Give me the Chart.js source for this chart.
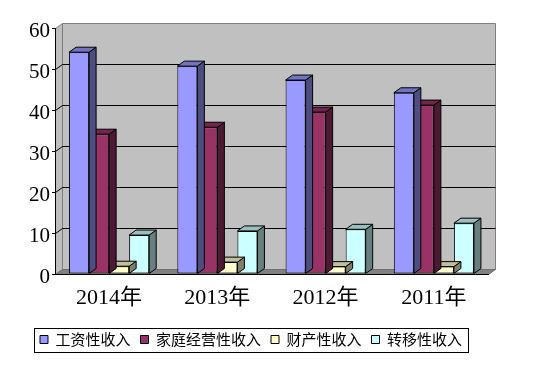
<!DOCTYPE html>
<html>
<head>
<meta charset="utf-8">
<script src="https://cdn.jsdelivr.net/npm/chart.js@4.4.1/dist/chart.umd.min.js"></script>
<style>
	body { margin: 0; background: #fff; }
	canvas { display: block; }
</style>
</head>
<body>
<canvas id="incomeChart" width="538" height="379"></canvas>
<script>
const years = ['2014年', '2013年', '2012年', '2011年'];
const seriesNames = ['工资性收入', '家庭经营性收入', '财产性收入', '转移性收入'];
const wages = [54.1, 50.7, 47.3, 44.2];
const family = [34.1, 35.8, 39.5, 41.2];
const property = [1.9, 2.9, 1.8, 1.8];
const transfer = [9.5, 10.5, 10.9, 12.4];
const yTicks = [0, 10, 20, 30, 40, 50, 60];

const frontColors = ['#9999FF', '#993366', '#FFFFCC', '#CCFFFF'];
const topColors = ['#7373BF', '#73264D', '#BFBF99', '#99BFBF'];
const sideColors = ['#4D4D80', '#4D1A33', '#808066', '#668080'];
const DX = 7, DY = 5;

function poly(ctx, pts, fill, stroke) {
	ctx.beginPath();
	ctx.moveTo(pts[0][0], pts[0][1]);
	for (let i = 1; i < pts.length; i++) ctx.lineTo(pts[i][0], pts[i][1]);
	ctx.closePath();
	if (fill) { ctx.fillStyle = fill; ctx.fill(); }
	if (stroke) { ctx.strokeStyle = stroke; ctx.lineWidth = 1; ctx.stroke(); }
}

// back wall, side wall, floor and gridlines
const wallsPlugin = {
	id: 'walls',
	beforeDraw(chart) {
		const {ctx, chartArea: a} = chart;
		const yScale = chart.scales.y;
		const L = a.left + 0.5, R = a.right + 0.5, T = a.top + 0.5, B = a.bottom + 0.5;
		ctx.save();
		poly(ctx, [[L + DX, T - DY], [R + DX, T - DY], [R + DX, B - DY], [L + DX, B - DY]], '#C0C0C0', '#808080');
		poly(ctx, [[L, T], [L + DX, T - DY], [L + DX, B - DY], [L, B]], '#BDBDBD', '#808080');
		poly(ctx, [[L, B], [L + DX, B - DY], [R + DX, B - DY], [R, B]], '#808080', '#707070');
		ctx.strokeStyle = '#000';
		ctx.lineWidth = 1;
		yTicks.forEach(v => {
			if (v === 0 || v === 60) return;
			const y = Math.round(yScale.getPixelForValue(v)) + 0.5;
			ctx.beginPath();
			ctx.moveTo(L, y);
			ctx.lineTo(L + DX, y - DY);
			ctx.lineTo(R + DX, y - DY);
			ctx.stroke();
		});
		ctx.restore();
	},
	afterDraw(chart) {
		// frame around the legend
		const boxes = chart.legend.legendHitBoxes;
		if (!boxes || !boxes.length) return;
		const left = Math.min(...boxes.map(b => b.left)) - 6;
		const right = Math.max(...boxes.map(b => b.left + b.width)) + 6;
		const mid = boxes[0].top + boxes[0].height / 2;
		const ctx = chart.ctx;
		ctx.save();
		ctx.strokeStyle = '#000';
		ctx.lineWidth = 1;
		ctx.strokeRect(Math.round(left) + 0.5, Math.round(mid - 12) + 0.5, Math.round(right - left), 24);
		ctx.restore();
	}
};

// top and right faces of each bar, drawn before the fronts of that dataset
const depthPlugin = {
	id: 'depth',
	beforeDatasetDraw(chart, args) {
		const ctx = chart.ctx;
		const i = args.index;
		ctx.save();
		args.meta.data.forEach(bar => {
			const p = bar.getProps(['x', 'y', 'base', 'width'], true);
			const l = p.x - p.width / 2, r = p.x + p.width / 2, t = p.y, b = p.base;
			poly(ctx, [[r, t], [r + DX, t - DY], [r + DX, b - DY], [r, b]], sideColors[i], '#000');
			poly(ctx, [[l, t], [l + DX, t - DY], [r + DX, t - DY], [r, t]], topColors[i], '#000');
		});
		ctx.restore();
	}
};

const values = [wages, family, property, transfer];
const datasets = seriesNames.map((name, i) => ({
	label: name,
	data: values[i],
	backgroundColor: frontColors[i],
	borderColor: '#000',
	borderWidth: 1,
	borderSkipped: false,
	categoryPercentage: 0.74,
	barPercentage: 1
}));

const serif = '"Liberation Serif", "Times New Roman", "Noto Sans CJK SC", serif';

new Chart(document.getElementById('incomeChart'), {
	type: 'bar',
	data: { labels: years, datasets: datasets },
	options: {
		responsive: false,
		animation: false,
		layout: { padding: { left: 14, right: 50, top: 28, bottom: 22 } },
		plugins: {
			tooltip: { enabled: false },
			legend: {
				position: 'bottom',
				labels: {
					boxWidth: 8,
					boxHeight: 8,
					padding: 10,
					color: '#000',
					font: { family: '"Noto Sans CJK SC", sans-serif', size: 15 }
				}
			}
		},
		scales: {
			x: {
				grid: { display: false, drawTicks: false },
				border: { display: true, color: '#000', width: 1 },
				ticks: { color: '#000', padding: 11, font: { family: serif, size: 22 } },
				afterFit(scale) { scale.height = 48; }
			},
			y: {
				min: 0,
				max: 60,
				grid: { drawOnChartArea: false, drawTicks: true, tickLength: 3, color: '#000' },
				border: { display: true, color: '#000', width: 1 },
				ticks: { stepSize: 10, color: '#000', padding: 2, labelOffset: 3, font: { family: serif, size: 21 } },
				afterFit(scale) { scale.width = 41; }
			}
		}
	},
	plugins: [wallsPlugin, depthPlugin]
});
</script>
</body>
</html>
